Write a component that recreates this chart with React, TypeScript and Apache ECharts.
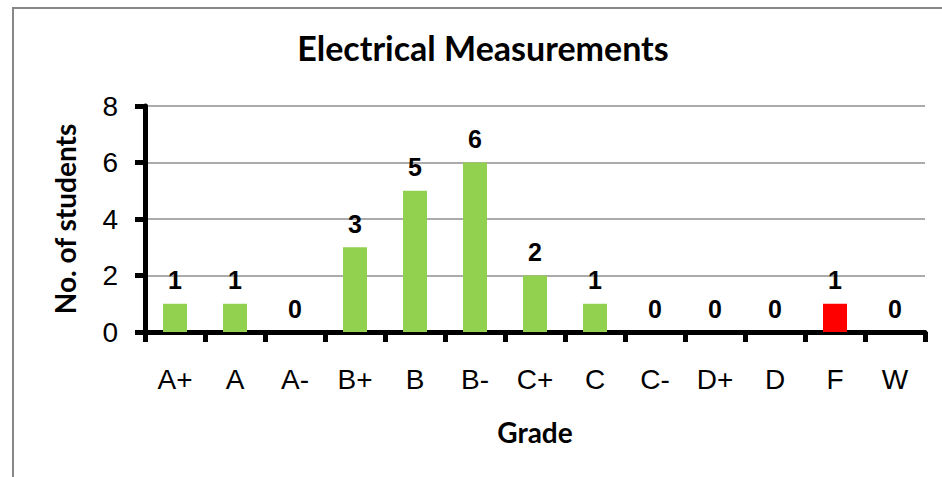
import React, { useEffect, useRef } from "react";
import * as echarts from "echarts";

const categories = ["A+", "A", "A-", "B+", "B", "B-", "C+", "C", "C-", "D+", "D", "F", "W"];
const students = [1, 1, 0, 3, 5, 6, 2, 1, 0, 0, 0, 1, 0];
const barColors = ["#92D050", "#92D050", "#92D050", "#92D050", "#92D050", "#92D050", "#92D050", "#92D050", "#92D050", "#92D050", "#92D050", "#FF0000", "#92D050"];
const yTicks = { min: 0, max: 8, interval: 2 };

export default function App() {
  const ref = useRef<HTMLDivElement>(null);
  useEffect(() => {
    if (!ref.current) return;
    const chart = echarts.init(ref.current, null, { renderer: "svg" });
    chart.setOption({
      animation: false,
      backgroundColor: "#ffffff",
      title: {
        text: "Electrical Measurements",
        left: 483,
        top: 30,
        textAlign: "center",
        padding: 0,
        textStyle: { fontFamily: "Lato", fontWeight: "bold", fontSize: 34, color: "#000" },
      },
      graphic: [
        {
          type: "rect",
          shape: { x: 13, y: 8, width: 1000, height: 1000 },
          style: { fill: "none", stroke: "#878787", lineWidth: 2 },
          silent: true,
        },
      ],
      grid: { left: 145, right: 17, top: 106, bottom: 145 },
      xAxis: {
        type: "category",
        data: categories,
        name: "Grade",
        nameLocation: "middle",
        nameGap: 86,
        nameTextStyle: { fontFamily: "Lato", fontWeight: "bold", fontSize: 28, color: "#000" },
        axisLine: { lineStyle: { color: "#000", width: 5 } },
        axisTick: { show: true, interval: 0, length: 10, lineStyle: { color: "#000", width: 5 } },
        axisLabel: { interval: 0, margin: 33, fontFamily: "Liberation Sans", fontSize: 28, color: "#000" },
      },
      yAxis: {
        type: "value",
        min: yTicks.min,
        max: yTicks.max,
        interval: yTicks.interval,
        name: "No. of students",
        nameLocation: "middle",
        nameRotate: 90,
        nameGap: 66,
        nameTextStyle: { fontFamily: "Lato", fontWeight: "bold", fontSize: 28, color: "#000" },
        axisLine: { show: true, lineStyle: { color: "#000", width: 5 } },
        axisTick: { show: true, length: 10, lineStyle: { color: "#000", width: 5 } },
        axisLabel: { margin: 27, fontFamily: "Liberation Sans", fontSize: 28, color: "#000" },
        splitLine: { show: true, lineStyle: { color: "#8f8f8f", width: 1.5 } },
      },
      series: [
        {
          type: "bar",
          barWidth: "40%",
          data: students.map((v, i) => ({ value: v, itemStyle: { color: barColors[i] } })),
          label: {
            show: true,
            position: "top",
            distance: 11,
            fontFamily: "Liberation Sans",
            fontWeight: "bold",
            fontSize: 25,
            color: "#000",
          },
        },
      ],
    });
    return () => chart.dispose();
  }, []);
  return <div ref={ref} style={{ position: "fixed", left: 0, top: 0, width: 942, height: 477 }} />;
}
